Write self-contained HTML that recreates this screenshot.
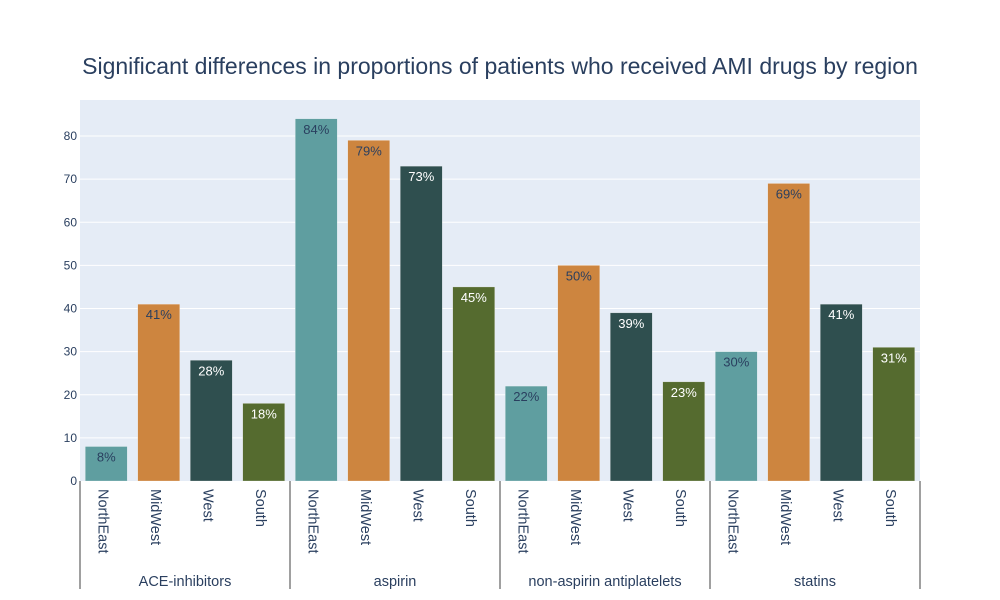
<!DOCTYPE html>
<html><head><meta charset="utf-8"><style>body{margin:0;background:#fff}svg{display:block}text{font-family:"Liberation Sans",Arial,sans-serif}</style></head>
<body>
<svg id="chart" width="1000" height="600">
<rect width="1000" height="600" fill="#fff"/>
<text x="500" y="74" text-anchor="middle" font-size="23" fill="#2a3f5f">Significant differences in proportions of patients who received AMI drugs by region</text>
<rect x="80" y="100" width="840" height="381" fill="#e5ecf6"/>
<g id="grid"></g><g id="bars"></g><g id="axes"></g>
</svg>
<script>
const groups = ["ACE-inhibitors","aspirin","non-aspirin antiplatelets","statins"];
const regions = ["NorthEast","MidWest","West","South"];
const values = [[8,41,28,18],[84,79,73,45],[22,50,39,23],[30,69,41,31]];
const yTicks = [0,10,20,30,40,50,60,70,80];
const colors = ["#5f9ea0","#cd853f","#2f4f4f","#556b2f"];
const textColors = ["#2a3f5f","#2a3f5f","#fff","#fff"];
const NS="http://www.w3.org/2000/svg";
const x0=80,x1=920,y0=481,pxPer=4.3125;
const y=v=>y0-v*pxPer;
const slot=(x1-x0)/(groups.length*regions.length);
function mk(tag,attrs,parent,txt){const e=document.createElementNS(NS,tag);for(const k in attrs)e.setAttribute(k,attrs[k]);if(txt!==undefined)e.textContent=txt;document.getElementById(parent).appendChild(e);return e;}
yTicks.forEach(t=>{
  if(t>0){const l=mk('line',{x1:x0,x2:x1,y1:y(t),y2:y(t),stroke:'#fff','stroke-width':1},'grid');
  
  }
  const tx=mk('text',{x:x0-3,y:y(t)+4,'text-anchor':'end','font-size':12,fill:'#2a3f5f'},'axes',t);
  
  
});
groups.forEach((g,gi)=>{
  regions.forEach((r,ri)=>{
    const v=values[gi][ri];const i=gi*regions.length+ri;
    const cx=x0+slot*(i+0.5);const w=slot*0.8;
    const b=mk('rect',{x:cx-w/2,y:y(v),width:w,height:v*pxPer,fill:colors[ri],stroke:'rgba(255,255,255,0.5)','stroke-width':0.5},'bars');
    
    
    const lb=mk('text',{x:cx,y:y(v)+15,'text-anchor':'middle','font-size':13,fill:textColors[ri]},'bars',v+'%');
    
    
    const ct=mk('text',{x:cx-8,y:489,'font-size':14.5,fill:'#2a3f5f',transform:`rotate(90 ${cx-8} 489)`},'axes',r);
    
    
  });
  const gx=x0+slot*regions.length*(gi+0.5);
  const gt=mk('text',{x:gx,y:586,'text-anchor':'middle','font-size':14.5,fill:'#2a3f5f'},'axes',g);
  
  
});
for(let k=0;k<=groups.length;k++){
  const lx=x0+slot*regions.length*k;
  const d=mk('line',{x1:lx,x2:lx,y1:481,y2:589,stroke:'#a0a0a0','stroke-width':2},'axes');
  
  
}
</script>
</body></html>
